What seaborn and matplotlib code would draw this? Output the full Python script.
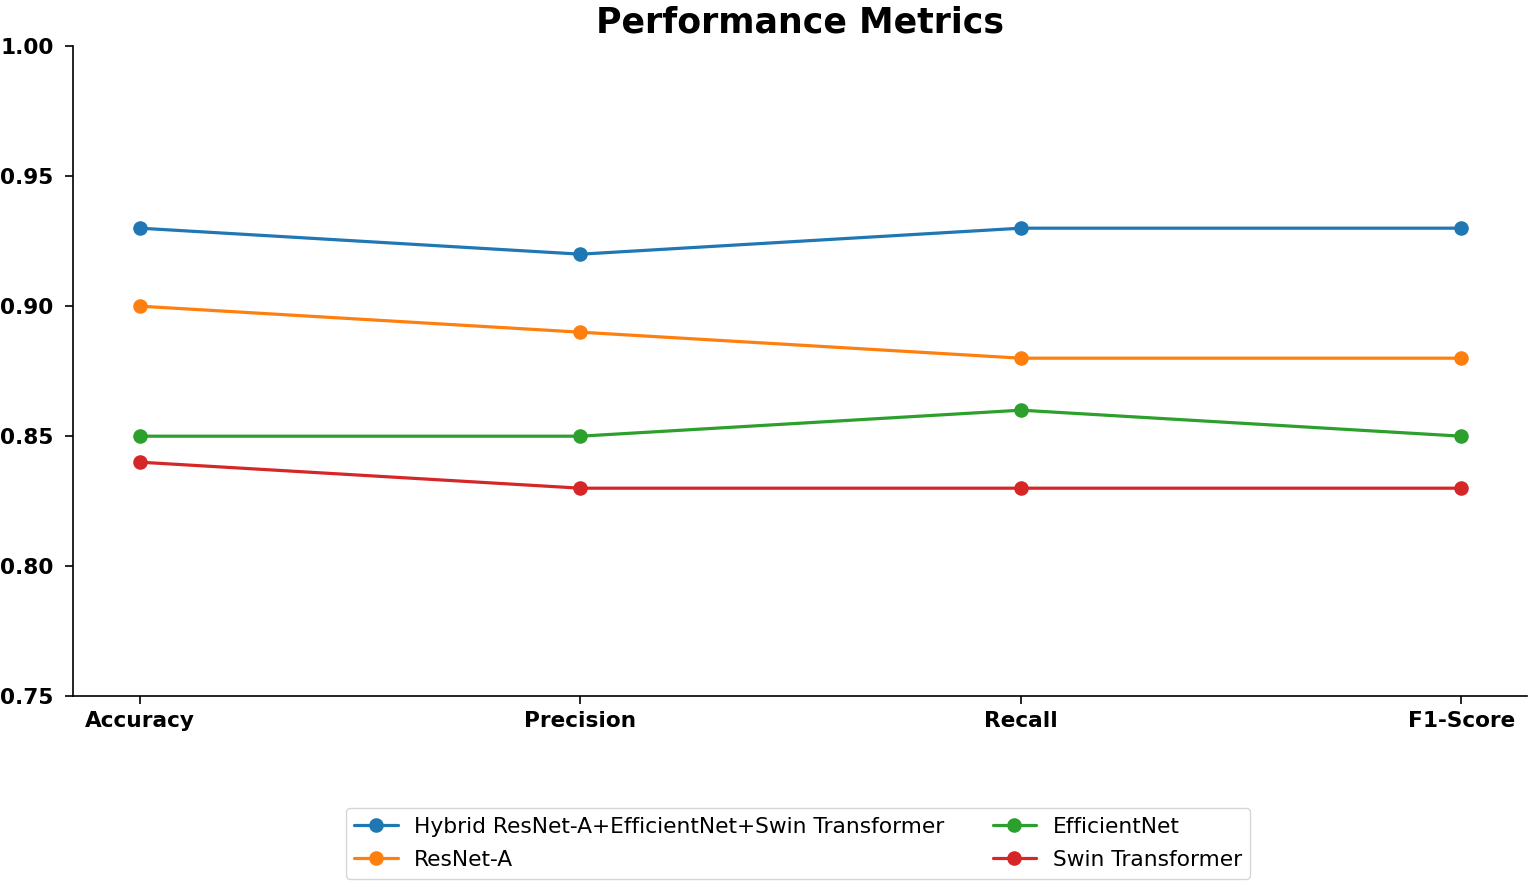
import matplotlib
matplotlib.use("Agg")
import matplotlib.pyplot as plt
import seaborn as sns
import pandas as pd

metrics = ["Accuracy", "Precision", "Recall", "F1-Score"]
models = ["Hybrid ResNet-A+EfficientNet+Swin Transformer", "ResNet-A", "EfficientNet", "Swin Transformer"]
hybrid = [0.93, 0.92, 0.93, 0.93]
resnet_a = [0.90, 0.89, 0.88, 0.88]
efficientnet = [0.85, 0.85, 0.86, 0.85]
swin = [0.84, 0.83, 0.83, 0.83]
yticks = [0.75, 0.80, 0.85, 0.90, 0.95, 1.00]

rows = []
for name, vals in zip(models, [hybrid, resnet_a, efficientnet, swin]):
    for i, (m, v) in enumerate(zip(metrics, vals)):
        rows.append({"idx": i, "Metric": m, "Model": name, "Score": v})
df = pd.DataFrame(rows)

sns.set_style("ticks")
plt.rcParams['font.family'] = ['DejaVu Sans']
plt.rcParams['text.color'] = 'black'
plt.rcParams['axes.labelcolor'] = 'black'

fig = plt.figure(figsize=(15.35, 8.88), dpi=100)
ax = fig.add_axes([0.0476, 0.216, 0.9474, 0.732])

palette = ["#1f77b4", "#ff7f0e", "#2ca02c", "#d62728"]
sns.lineplot(data=df, x="idx", y="Score", hue="Model", hue_order=models, palette=palette,
             marker="o", markersize=10.5, markeredgewidth=0, linewidth=2.3, ax=ax, sort=False)

ax.set_xlim(-0.152, 3.15)
ax.set_ylim(0.75, 1.00)
ax.set_xticks(range(len(metrics)))
ax.set_xticklabels(metrics, fontsize=15.6, fontweight="bold", color="black")
ax.set_yticks(yticks)
ax.set_yticklabels([f"{t:.2f}" for t in yticks], fontsize=15.6, fontweight="bold", color="black")
ax.set_xlabel("")
ax.set_ylabel("")
ax.tick_params(axis="both", length=6, width=1.2, colors="black")
ax.tick_params(axis="x", pad=5)
ax.tick_params(axis="y", pad=8)
for s in ["left", "bottom"]:
    ax.spines[s].set_linewidth(1.2)
    ax.spines[s].set_color("black")
sns.despine(ax=ax)
ax.set_title("Performance Metrics", fontsize=25, fontweight="bold", pad=10, color="black")

handles, labels = ax.get_legend_handles_labels()
leg = ax.legend(handles, labels, loc="upper center", bbox_to_anchor=(0.4985, -0.155), ncol=2,
                fontsize=15.7, frameon=True, columnspacing=2.2, handlelength=2.0,
                labelspacing=0.62, handletextpad=0.75)
for t in leg.get_texts():
    t.set_color("black")

fig.savefig("out.png", dpi=100)
